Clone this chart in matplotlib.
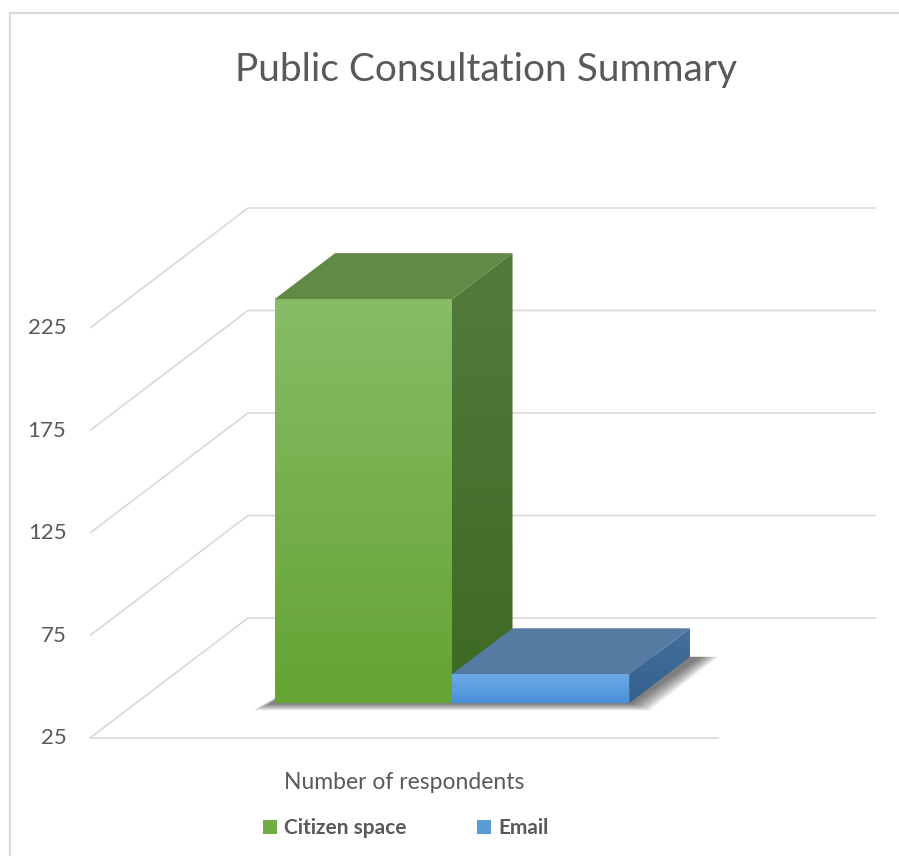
import matplotlib
matplotlib.use('Agg')
import matplotlib.pyplot as plt
import numpy as np
from matplotlib.patches import Polygon, Patch
from matplotlib.lines import Line2D

# Data
title = 'Public Consultation Summary'
category = 'Number of respondents'
series = ['Citizen space', 'Email']
values = [222, 39]
y_ticks = [25, 75, 125, 175, 225]
y_base = 25

# colours: (front top, front bottom, top face, side top, side bottom, legend)
colors = {
    'Citizen space': ('#86bd66', '#65a333', '#608a46', '#547b3d', '#3d6a22', '#70ad47'),
    'Email': ('#6eaae6', '#4990da', '#557ba2', '#44709b', '#33608d', '#5b9bd5'),
}
text_color = '#595959'
grid_color = '#d9d9d9'

plt.rcParams['font.family'] = ['Lato', 'DejaVu Sans']

W, H = 899, 856
fig = plt.figure(figsize=(W / 100, H / 100), dpi=100)
ax = fig.add_axes([0, 0, 1, 1])
ax.axis('off')

# layout of the fake 3D box (pixels of the front floor edge and value scale)
left_px, right_px, floor_px, top_px = 90, 718, 738, 328
px_x = right_px - left_px
px_v = (floor_px - top_px) / (y_ticks[-1] - y_ticks[0])
depth_dx = 158 / px_x
depth_dy = 120 / px_v


def proj(x, v, d):
    return (x + d * depth_dx, v + d * depth_dy)


# walls / gridlines
for v in y_ticks:
    p0, p1, p2 = proj(0, v, 0), proj(0, v, 1), proj(1, v, 1)
    ax.plot([p0[0], p1[0], p2[0]], [p0[1], p1[1], p2[1]], color=grid_color,
            lw=1.2, zorder=1, solid_capstyle='butt')
    ax.annotate(str(v), xy=p0, xytext=(-17, 0), textcoords='offset points',
                ha='right', va='center', fontsize=16, color=text_color)
f0, f1 = proj(0, y_base, 0), proj(1, y_base, 0)
ax.plot([f0[0], f1[0]], [f0[1], f1[1]], color=grid_color, lw=1.2, zorder=1)

ax.annotate(category, xy=proj(0.5, y_base, 0), xytext=(0, -32),
            textcoords='offset points', ha='center', va='center',
            fontsize=16.5, color=text_color)


def grad_poly(verts, c_top, c_bot, z):
    patch = Polygon(verts, closed=True, facecolor='none', edgecolor='none', zorder=z)
    ax.add_patch(patch)
    verts = np.array(verts)
    top = np.array(matplotlib.colors.to_rgb(c_top))
    bot = np.array(matplotlib.colors.to_rgb(c_bot))
    t = np.linspace(0, 1, 256)[:, None, None]
    img = top * (1 - t) + bot * t
    im = ax.imshow(img, extent=(verts[:, 0].min(), verts[:, 0].max(),
                                verts[:, 1].min(), verts[:, 1].max()),
                   origin='upper', aspect='auto', zorder=z, interpolation='bilinear')
    im.set_clip_path(patch)


# bars
d0, d1 = 35 / 120, 81 / 120
gap = 0.2205
bw = (1 - 2 * gap) / len(series) + 0.003

# soft shadow under the bars
sx0, sx1 = gap, gap + bw * len(series)
for k in range(10):
    e = 0.003 * k
    ev = 1.2 * k
    shadow = [proj(sx0 - 0.012 - e, y_base - 1.5 - 0.3 * ev, d0 + 0.02),
              proj(sx1 + e, y_base - 1.5 - 0.3 * ev, d0 + 0.02),
              proj(sx1 + 0.03 + e, y_base + 3, d1 - 0.05),
              proj(sx0 + 0.03, y_base + 3, d1 - 0.05)]
    ax.add_patch(Polygon(shadow, closed=True, facecolor='#202020',
                         edgecolor='none', alpha=0.08, zorder=2))

for i, (name, val) in enumerate(zip(series, values)):
    ft, fb, tc, st, sb, _ = colors[name]
    xa, xb = gap + i * bw, gap + (i + 1) * bw
    z = 3 + i
    front = [proj(xa, y_base, d0), proj(xb, y_base, d0),
             proj(xb, val, d0), proj(xa, val, d0)]
    side = [proj(xb, y_base, d0), proj(xb, y_base, d1),
            proj(xb, val, d1), proj(xb, val, d0)]
    topf = [proj(xa, val, d0), proj(xb, val, d0),
            proj(xb, val, d1), proj(xa, val, d1)]
    grad_poly(side, st, sb, z)
    ax.add_patch(Polygon(topf, closed=True, facecolor=tc, edgecolor='none', zorder=z))
    grad_poly(front, ft, fb, z)

ax.set_xlim(-left_px / px_x, (W - left_px) / px_x)
ax.set_ylim(y_base - (H - floor_px) / px_v, y_base + floor_px / px_v)

fig.text(486 / W, 1 - 70 / H, title, ha='center', va='center',
         fontsize=28, color=text_color, fontweight='normal')

handles = [Patch(facecolor=colors[s][5], edgecolor='none') for s in series]
leg = ax.legend(handles, series, loc='center', bbox_to_anchor=(406 / W, 1 - 828 / H),
                ncol=2, frameon=False, handlelength=0.65, handleheight=0.65,
                handletextpad=0.35, columnspacing=3.4,
                prop={'size': 15, 'weight': 'bold'})
for t in leg.get_texts():
    t.set_color(text_color)

# chart area border (left and top only visible)
fig.add_artist(Line2D([10 / W, 10 / W], [0, 1 - 13 / H], color=grid_color, lw=1.5))
fig.add_artist(Line2D([10 / W, 1], [1 - 13 / H, 1 - 13 / H], color=grid_color, lw=1.5))

fig.savefig('out.png', dpi=100, facecolor='white')
